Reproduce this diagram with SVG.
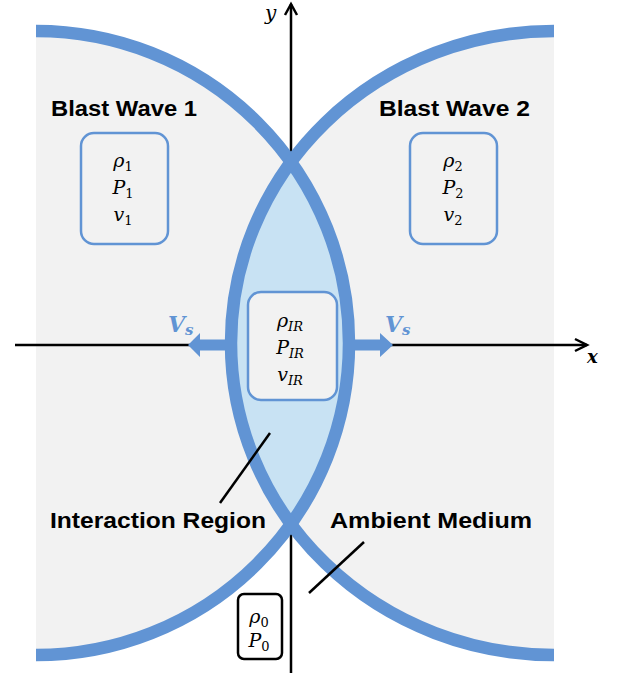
<svg xmlns="http://www.w3.org/2000/svg" width="617" height="675" viewBox="0 0 617 675">
<style>
.gray{fill:#f2f2f2;stroke:none}
.band{fill:none;stroke:#6194d4;stroke-width:12.5}
.lens{fill:#c8e2f3;stroke:none}
.axis{fill:none;stroke:#000;stroke-width:2.5}
.lead{fill:none;stroke:#000;stroke-width:2.5}
.box{fill:#f2f2f2;stroke:#6194d4;stroke-width:2.5}
.box0{fill:#fff;stroke:#000;stroke-width:2.5}
.lbl{font-family:"Liberation Sans",Arial,sans-serif;font-weight:bold;font-size:22px;fill:#000}
.m{font-family:"DejaVu Serif","Liberation Serif",serif;font-style:italic;font-size:19px;fill:#000}
.sub{font-size:13px}
.subn{font-size:13px;font-style:normal}
.vs{font-family:"DejaVu Serif","Liberation Serif",serif;font-style:italic;font-weight:bold;font-size:22px;fill:#6194d4}
.arr{fill:#6194d4;stroke:none}
</style>
<g id="background">
<path class="gray" d="M36,31 A313,312 0 0 1 36,655 Z"/>
<path class="gray" d="M554,31 A323,312 0 0 0 554,655 Z"/>
</g>
<g id="axes">
<line class="axis" x1="15" y1="345" x2="587" y2="345"/>
<polyline class="axis" points="575,339 587,345 575,351"/>
<line class="axis" x1="291" y1="673" x2="291" y2="4"/>
<polyline class="axis" points="285,15 291,4 297,15"/>
<text x="587" y="363" font-family="DejaVu Serif,serif" font-style="italic" font-weight="bold" font-size="18">x</text>
<text x="265" y="20" font-family="DejaVu Serif,serif" font-style="italic" font-size="20">y</text>
</g>
<g id="interaction-region">
<path class="lens" d="M291,162 A323,312 0 0 0 291,524 A313,312 0 0 0 291,162 Z"/>
</g>
<g id="blast-wave-1">
<path class="band" d="M36,31 A313,312 0 0 1 36,655"/>
<text class="lbl" x="51" y="116" textLength="146" lengthAdjust="spacingAndGlyphs">Blast Wave 1</text>
<rect class="box" x="81" y="133" width="87" height="111" rx="13"/>
<text class="m" x="123" y="167" text-anchor="middle">ρ<tspan class="subn" dy="4">1</tspan></text>
<text class="m" x="123" y="194" text-anchor="middle">P<tspan class="subn" dy="4">1</tspan></text>
<text class="m" x="123" y="221" text-anchor="middle">v<tspan class="subn" dy="4">1</tspan></text>
</g>
<g id="blast-wave-2">
<path class="band" d="M554,31 A323,312 0 0 0 554,655"/>
<text class="lbl" x="379" y="116" textLength="151" lengthAdjust="spacingAndGlyphs">Blast Wave 2</text>
<rect class="box" x="410" y="133" width="87" height="111" rx="13"/>
<text class="m" x="453" y="167" text-anchor="middle">ρ<tspan class="subn" dy="4">2</tspan></text>
<text class="m" x="453" y="194" text-anchor="middle">P<tspan class="subn" dy="4">2</tspan></text>
<text class="m" x="453" y="221" text-anchor="middle">v<tspan class="subn" dy="4">2</tspan></text>
</g>
<g id="ir-state">
<rect class="box" x="248" y="292" width="89" height="108" rx="13"/>
<text class="m" x="290" y="327" text-anchor="middle">ρ<tspan class="sub" dy="4">IR</tspan></text>
<text class="m" x="290" y="354" text-anchor="middle">P<tspan class="sub" dy="4">IR</tspan></text>
<text class="m" x="290" y="381" text-anchor="middle">v<tspan class="sub" dy="4">IR</tspan></text>
</g>
<g id="shock-velocity">
<path class="arr" d="M228,339.5 L200,339.5 L200,333 L188,345 L200,357 L200,350.5 L228,350.5 Z"/>
<path class="arr" d="M354,339.5 L380,339.5 L380,333 L393,345 L380,357 L380,350.5 L354,350.5 Z"/>
<text class="vs" x="168" y="332">V<tspan font-size="15" dy="3">s</tspan></text>
<text class="vs" x="385" y="332">V<tspan font-size="15" dy="3">s</tspan></text>
</g>
<g id="ambient-state">
<rect class="box0" x="238" y="594" width="44" height="65" rx="6"/>
<text class="m" x="259" y="623" text-anchor="middle">ρ<tspan class="subn" dy="4">0</tspan></text>
<text class="m" x="259" y="647" text-anchor="middle">P<tspan class="subn" dy="4">0</tspan></text>
</g>
<g id="connectors">
<line class="lead" x1="220" y1="503" x2="270" y2="433"/>
<line class="lead" x1="309" y1="593" x2="364" y2="542"/>
</g>
<g id="labels">
<text class="lbl" x="50" y="528" textLength="216" lengthAdjust="spacingAndGlyphs">Interaction Region</text>
<text class="lbl" x="330" y="528" textLength="202" lengthAdjust="spacingAndGlyphs">Ambient Medium</text>
</g>
</svg>
